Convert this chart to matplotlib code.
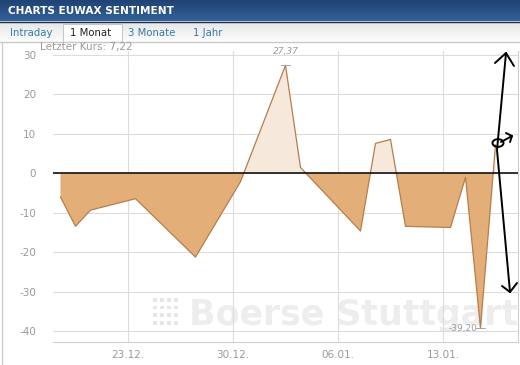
import matplotlib
matplotlib.use("Agg")
import matplotlib.pyplot as plt
import matplotlib.dates as mdates
from matplotlib.patches import Rectangle, Circle
from matplotlib.lines import Line2D
from matplotlib.colors import LinearSegmentedColormap
import numpy as np
import pandas as pd

plt.rcParams["axes.unicode_minus"] = False

# ---- data ----
dates = ["18.12.2013", "19.12.2013", "20.12.2013", "23.12.2013", "27.12.2013",
         "30.12.2013", "02.01.2014", "03.01.2014", "07.01.2014", "08.01.2014",
         "09.01.2014", "10.01.2014", "13.01.2014", "14.01.2014", "15.01.2014",
         "16.01.2014"]
values = [-6.0, -13.4, -9.3, -6.4, -21.2, -2.1, 27.37, 1.5, -14.6, 7.6,
          8.6, -13.4, -13.7, -1.0, -39.20, 7.22]
tick_dates = ["23.12.2013", "30.12.2013", "06.01.2014", "13.01.2014"]
tick_labels = ["23.12.", "30.12.", "06.01.", "13.01."]
y_ticks = [30, 20, 10, 0, -10, -20, -30, -40]
tabs = ["Intraday", "1 Monat", "3 Monate", "1 Jahr"]
title = "CHARTS EUWAX SENTIMENT"
last_label = "Letzter Kurs: 7,22"

W, H = 520, 365
fig = plt.figure(figsize=(W / 100, H / 100), dpi=100)
fig.patch.set_facecolor("white")

def fx(px):
    return px / W

def fy(py):
    return 1 - py / H

# ---- header ----
grad = np.linspace(0, 1, 50).reshape(-1, 1)
hdr = fig.add_axes([0, fy(21), 1, 21 / H])
hdr.set_axis_off()
cm_h = LinearSegmentedColormap.from_list("h", ["#1f4374", "#33629a"])
hdr.imshow(grad, aspect="auto", cmap=cm_h, extent=[0, 1, 0, 1])
hdr.set_xlim(0, 1); hdr.set_ylim(0, 1)
fig.text(fx(8), fy(11), title, color="white", fontsize=7.6, fontweight="bold",
         va="center", ha="left", family="DejaVu Sans")

tab = fig.add_axes([0, fy(41), 1, 20 / H])
tab.set_axis_off()
cm_t = LinearSegmentedColormap.from_list("t", ["#e4e4e4", "#fbfdfd"])
tab.imshow(grad, aspect="auto", cmap=cm_t, extent=[0, 1, 0, 1])
tab.set_xlim(0, 1); tab.set_ylim(0, 1)
fig.add_artist(Line2D([0, 1], [fy(41.5), fy(41.5)], color="#c8c8c8", lw=1))
fig.add_artist(Line2D([0, 1], [fy(21.5), fy(21.5)], color="#1a2f50", lw=1))
fig.add_artist(Rectangle((fx(63), fy(42)), fx(59), 18 / H, facecolor="white",
                         edgecolor="#c8c8c8", lw=0.8))
tab_x = [10, 70, 128, 193]
for t, xx in zip(tabs, tab_x):
    fig.text(fx(xx), fy(32.5), t, color="#222222" if t == "1 Monat" else "#3a78a8",
             fontsize=7.3, va="center", ha="left", family="DejaVu Sans")

fig.add_artist(Line2D([fx(1.5), fx(1.5)], [fy(42), fy(365)], color="#cfcfcf", lw=1))

# ---- chart ----
x = mdates.date2num(pd.to_datetime(dates, format="%d.%m.%Y")) + 0.5
v = np.array(values)
tx = mdates.date2num(pd.to_datetime(tick_dates, format="%d.%m.%Y"))

ax = fig.add_axes([fx(53), fy(342), fx(518 - 53), (342 - 51) / H])
ax.set_facecolor("none")

# watermark
ax.text(0.292, 0.035, "Boerse Stuttgart", transform=ax.transAxes, fontsize=25,
        fontweight="bold", color="#ededed", ha="left", va="bottom",
        family="DejaVu Sans", zorder=0)
for i in range(4):
    for j in range(4):
        ax.add_patch(Rectangle((0.215 + i * 0.015, 0.06 + j * 0.026), 0.008, 0.013,
                               transform=ax.transAxes, color="#e6e6e6", zorder=0, lw=0))

ax.fill_between(x, v, 0, where=v <= 0, interpolate=True, color="#e4ae78", lw=0, zorder=2)
ax.fill_between(x, v, 0, where=v >= 0, interpolate=True, color="#f6e8db", lw=0, zorder=2)
ax.plot(x, v, color="#b57e4c", lw=0.9, zorder=3)
ax.axhline(0, color="black", lw=1.1, zorder=4)

x0 = mdates.date2num(pd.Timestamp("2013-12-18"))
x1 = mdates.date2num(pd.Timestamp("2014-01-18"))
ax.set_xlim(x0, x1)
ax.set_ylim(-42.7, 31)

ax.set_yticks(y_ticks)
ax.set_xticks(tx)
ax.set_xticklabels(tick_labels)
ax.grid(True, color="#dcdcdc", lw=0.8, zorder=1)
ax.set_axisbelow(True)
ax.tick_params(length=0, colors="#9a9a9a", labelsize=7.5, pad=6)
ax.tick_params(axis="y", pad=12)
for s in ["top", "left"]:
    ax.spines[s].set_visible(False)
ax.spines["bottom"].set_color("#cfcfcf")
ax.spines["right"].set_color("#cfcfcf")

imax = int(np.argmax(v)); imin = int(np.argmin(v))
ax.annotate(f"{v[imax]:.2f}".replace(".", ","), (x[imax], v[imax]), xytext=(0, 7),
            textcoords="offset points", ha="center", va="bottom", fontsize=6.5,
            color="#9a9a9a", style="italic", annotation_clip=False, zorder=6)
ax.plot([x[imax] - 0.3, x[imax] + 0.3], [v[imax], v[imax]], color="#9a9a9a", lw=0.6, zorder=5)
ax.annotate(f"{v[imin]:.2f}".replace(".", ","), (x[imin], v[imin]), xytext=(-2, 0),
            textcoords="offset points", ha="right", va="center", fontsize=6.5,
            color="#9a9a9a", annotation_clip=False, zorder=6)
ax.plot([x[imin] - 0.3, x[imin] + 0.3], [v[imin], v[imin]], color="#9a9a9a", lw=0.6, zorder=5)

fig.text(fx(40), fy(47), last_label, fontsize=7.5, color="#9a9a9a", ha="left", va="center")

# ---- hand-drawn annotation ----
def L(pts, lw=1.4):
    xs = [fx(p[0]) for p in pts]; ys = [fy(p[1]) for p in pts]
    fig.add_artist(Line2D(xs, ys, color="black", lw=lw, solid_capstyle="round"))

L([(506, 53), (497, 150), (510, 292)])
L([(495, 63), (506, 53), (514, 66)])
L([(502, 286), (510, 292), (517, 283)])
fig.add_artist(Circle((fx(498), fy(143)), 5.5 / W, transform=fig.transFigure,
                      fill=False, ec="black", lw=1.4))
L([(501, 142), (512, 136)])
L([(506, 133), (512, 136), (510, 142)])

fig.savefig("out.png", dpi=100)
